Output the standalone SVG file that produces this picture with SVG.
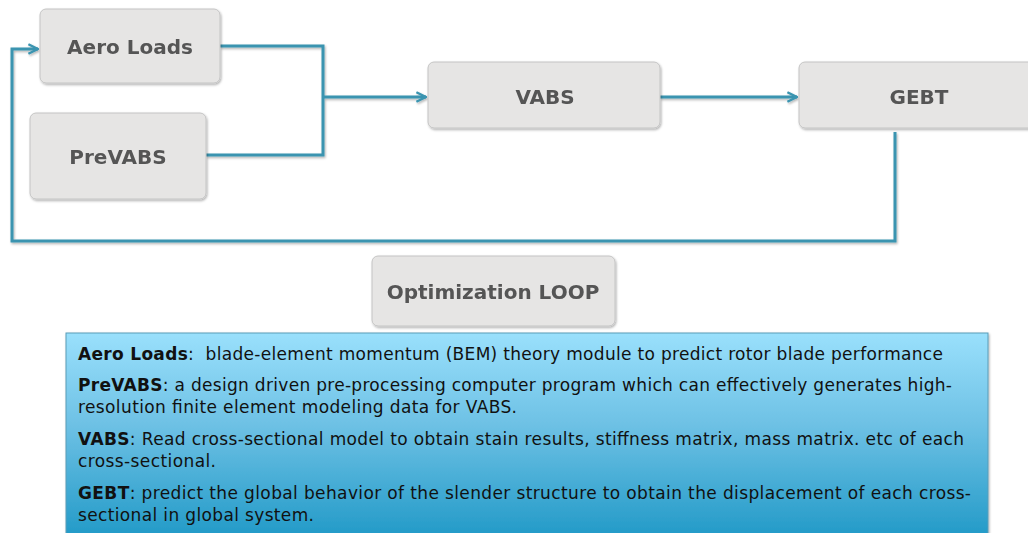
<svg xmlns="http://www.w3.org/2000/svg" width="1028" height="533" viewBox="0 0 1028 533">
<defs>
<linearGradient id="desc" x1="0" y1="0" x2="0" y2="1">
<stop offset="0" stop-color="#9ae0fc"/>
<stop offset="0.45" stop-color="#6cc0e4"/>
<stop offset="1" stop-color="#1e98c6"/>
</linearGradient>
<filter id="sh" x="-10%" y="-10%" width="130%" height="130%">
<feDropShadow dx="1" dy="1.5" stdDeviation="1" flood-color="#000" flood-opacity="0.3"/>
</filter>
<marker id="arr" viewBox="0 0 10 10" refX="9" refY="5" markerWidth="4" markerHeight="4" orient="auto" markerUnits="strokeWidth">
<path d="M1,1 L9,5 L1,9" fill="none" stroke="#3a94b0" stroke-width="2"/>
</marker>
<style>
.box{fill:#e6e5e4;stroke:#c4c4c4;stroke-width:1}
.lbl{font-family:"DejaVu Sans","Liberation Sans",sans-serif;font-weight:bold;font-size:20px;fill:#555555;text-anchor:middle}
.con{fill:none;stroke:#3a94b0;stroke-width:3;stroke-linejoin:miter}
.d{font-family:"DejaVu Sans","Liberation Sans",sans-serif;font-size:17px;fill:#111111}
.b{font-weight:bold}
</style>
</defs>
<rect width="1028" height="533" fill="#ffffff"/>
<g id="connectors" filter="url(#sh)">
<path class="con" d="M220,46 H323 V155 H206"/>
<path class="con" d="M323,97 H426" marker-end="url(#arr)"/>
<path class="con" d="M660,97 H797" marker-end="url(#arr)"/>
<path class="con" d="M895,132 V241 H12 V49 H38" marker-end="url(#arr)"/>
</g>
<g id="aero-loads" filter="url(#sh)">
<rect class="box" x="40" y="9" width="180" height="74" rx="6"/>
<text class="lbl" x="130" y="54">Aero Loads</text>
</g>
<g id="prevabs" filter="url(#sh)">
<rect class="box" x="30" y="113" width="176" height="86" rx="6"/>
<text class="lbl" x="118" y="164">PreVABS</text>
</g>
<g id="vabs" filter="url(#sh)">
<rect class="box" x="428" y="62" width="232" height="66" rx="6"/>
<text class="lbl" x="545" y="104">VABS</text>
</g>
<g id="gebt" filter="url(#sh)">
<rect class="box" x="799" y="62" width="240" height="66" rx="6"/>
<text class="lbl" x="919" y="104">GEBT</text>
</g>
<g id="optimization-loop" filter="url(#sh)">
<rect class="box" x="372" y="256" width="243" height="70" rx="6"/>
<text class="lbl" x="493" y="299">Optimization LOOP</text>
</g>
<g id="description">
<rect x="66" y="333" width="922" height="210" fill="url(#desc)" stroke="#5b9db8" stroke-width="1" filter="url(#sh)"/>
<text class="d" x="78" y="360" textLength="865" lengthAdjust="spacing" xml:space="preserve"><tspan class="b">Aero Loads</tspan>:  blade-element momentum (BEM) theory module to predict rotor blade performance</text>
<text class="d" x="78" y="391" textLength="874" lengthAdjust="spacing"><tspan class="b">PreVABS</tspan>: a design driven pre-processing computer program which can effectively generates high-</text>
<text class="d" x="78" y="413" textLength="439" lengthAdjust="spacing">resolution finite element modeling data for VABS.</text>
<text class="d" x="78" y="445" textLength="886" lengthAdjust="spacing"><tspan class="b">VABS</tspan>: Read cross-sectional model to obtain stain results, stiffness matrix, mass matrix. etc of each</text>
<text class="d" x="78" y="467" textLength="138" lengthAdjust="spacing">cross-sectional.</text>
<text class="d" x="78" y="499" textLength="893" lengthAdjust="spacing"><tspan class="b">GEBT</tspan>: predict the global behavior of the slender structure to obtain the displacement of each cross-</text>
<text class="d" x="78" y="521" textLength="236" lengthAdjust="spacing">sectional in global system.</text>
</g>
</svg>
